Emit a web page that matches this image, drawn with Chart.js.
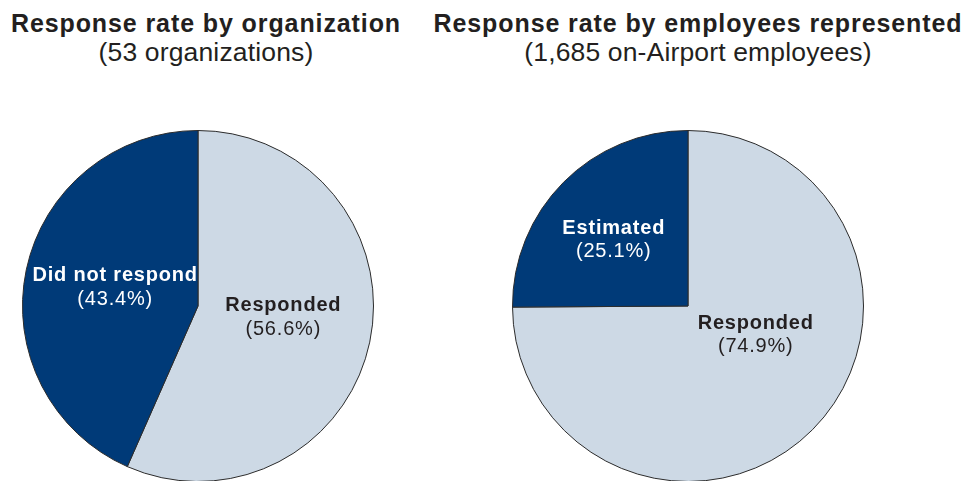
<!DOCTYPE html>
<html>
<head>
<meta charset="utf-8">
<script src="https://cdn.jsdelivr.net/npm/chart.js@4/dist/chart.umd.min.js"></script>
<style>
  html, body { margin: 0; padding: 0; background: #fff; overflow: hidden; }
  body { width: 967px; height: 481px; position: relative; font-family: "Liberation Sans", Arial, Helvetica, sans-serif; color: #231f20; }
  .ttl { position: absolute; top: 9px; text-align: center; width: 600px; }
  .ttl b { display: block; font-size: 25px; line-height: 28px; letter-spacing: 0.9px; }
  .ttl span { display: block; font-size: 26.5px; line-height: 30px; letter-spacing: 0.15px; }
  .box { position: absolute; top: 126px; width: 360px; height: 360px; }
</style>
</head>
<body>
<div class="ttl" style="left: -94px;"><b>Response rate by organization</b><span>(53 organizations)</span></div>
<div class="ttl" style="left: 398px;"><b>Response rate by employees represented</b><span>(1,685 on-Airport employees)</span></div>
<div class="box" style="left: 18px;"><canvas id="orgChart" width="360" height="360"></canvas></div>
<div class="box" style="left: 508px;"><canvas id="empChart" width="360" height="360"></canvas></div>
<script>
// response shares, percent
const orgLabels = ["Responded", "Did not respond"];
const orgValues = [56.6, 43.4];
const empLabels = ["Responded", "Estimated"];
const empValues = [74.9, 25.1];

const NAVY = "#003a78";
const PALE = "#cdd9e5";

// writes "name" in bold and "(value%)" under it, at an offset from the pie centre (in radius units)
const sliceText = {
    id: "sliceText",
    afterDatasetsDraw(chart, args, opts) {
        const ctx = chart.ctx;
        const meta = chart.getDatasetMeta(0);
        const ds = chart.data.datasets[0];
        meta.data.forEach((arc, i) => {
            const off = opts.offsets[i];
            const x = arc.x + off[0] * arc.outerRadius;
            const y = arc.y + off[1] * arc.outerRadius + 1.5;
            ctx.save();
            ctx.fillStyle = opts.colors[i];
            ctx.textAlign = "center";
            ctx.textBaseline = "middle";
            ctx.letterSpacing = "0.8px";
            ctx.font = "bold 20px 'Liberation Sans', Arial, sans-serif";
            ctx.fillText(chart.data.labels[i], x, y - 11.75);
            ctx.font = "20px 'Liberation Sans', Arial, sans-serif";
            ctx.fillText("(" + ds.data[i].toFixed(1) + "%)", x, y + 11.75);
            ctx.restore();
        });
    }
};

function pie(id, labels, values, offsets) {
    return new Chart(document.getElementById(id), {
        type: "pie",
        data: {
            labels: labels,
            datasets: [{
                data: values,
                backgroundColor: [PALE, NAVY],
                borderColor: "#2b2b2b",
                borderWidth: 1
            }]
        },
        options: {
            responsive: false,
            maintainAspectRatio: false,
            animation: false,
            layout: { padding: 4 },
            plugins: {
                legend: { display: false },
                tooltip: { enabled: false },
                sliceText: { offsets: offsets, colors: ["#231f20", "#ffffff"] }
            }
        },
        plugins: [sliceText]
    });
}

pie("orgChart", orgLabels, orgValues, [[0.486, 0.057], [-0.472, -0.114]]);
pie("empChart", empLabels, empValues, [[0.386, 0.156], [-0.423, -0.386]]);
</script>
</body>
</html>
